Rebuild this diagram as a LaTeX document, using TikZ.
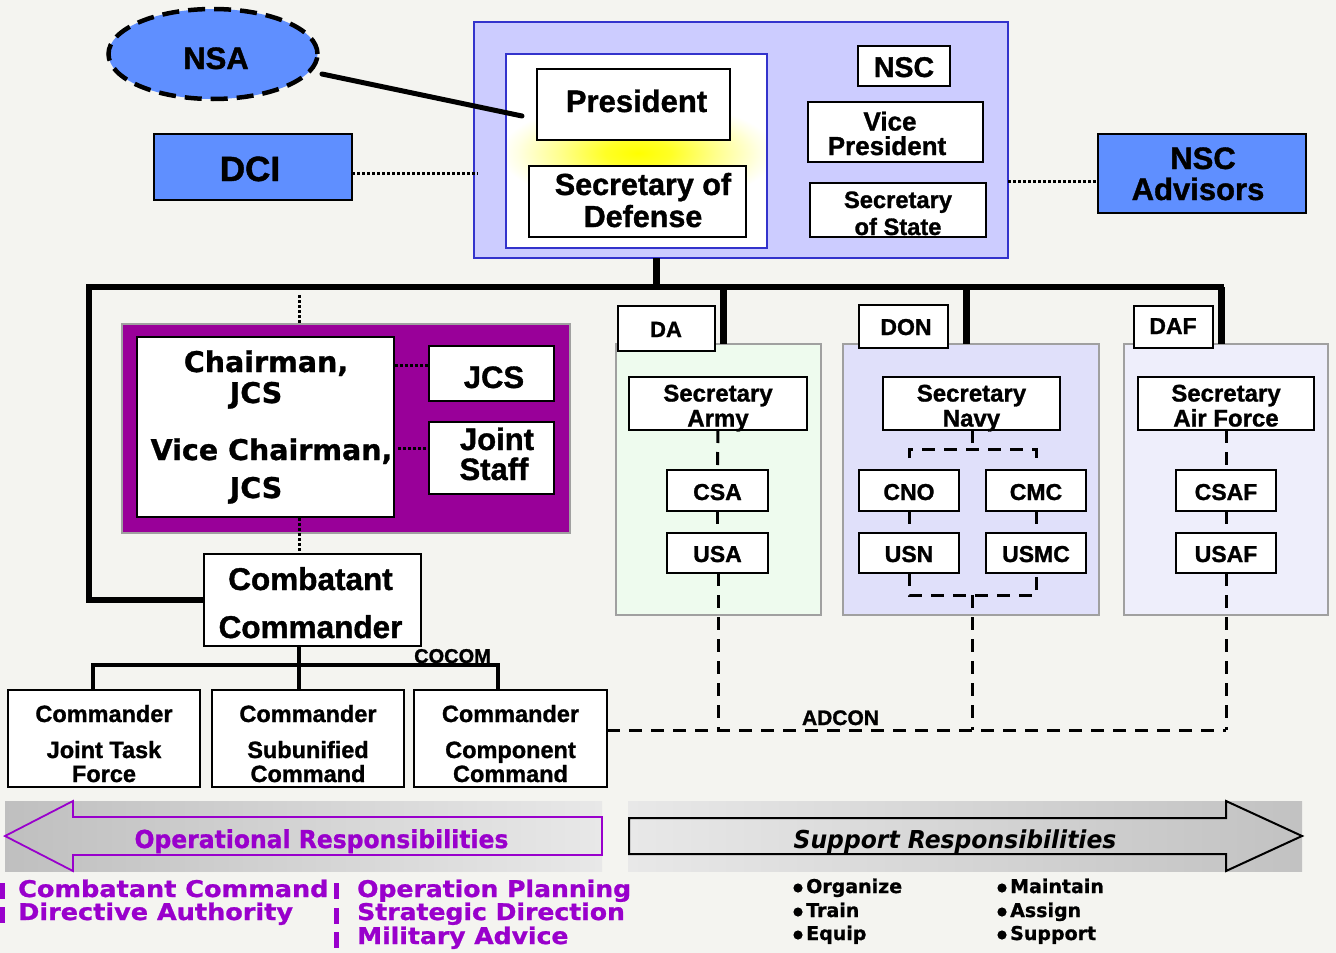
\documentclass[tikz,border=0pt]{standalone}
\usepackage{fontspec}
\usepackage{graphicx}
\setmainfont{Liberation Sans}[BoldFeatures={FakeBold=1.2}]
\newfontfamily\dejavu{DejaVu Sans}[BoldFeatures={FakeBold=1}]
\usetikzlibrary{shapes.geometric}
\definecolor{bg}{HTML}{F4F4F0}
\definecolor{blueF}{HTML}{5F8FFF}
\definecolor{lav}{HTML}{CCCCFF}
\definecolor{navy}{HTML}{3333CC}
\definecolor{purp}{HTML}{990099}
\definecolor{vio}{HTML}{9900CC}
\definecolor{daG}{HTML}{EEFBEE}
\definecolor{donB}{HTML}{E0E0FA}
\definecolor{dafB}{HTML}{EEEEFB}
\definecolor{pgray}{HTML}{A0A0A0}
\pgfdeclareradialshading{glow}{\pgfpoint{0bp}{0bp}}{%
  color(0bp)=(yellow); color(6bp)=(yellow!85!white); color(14bp)=(yellow!45!white);
  color(22bp)=(yellow!10!white); color(25bp)=(white); color(50bp)=(white)}
\newcommand{\fA}[1]{\fontsize{#1}{#1}\selectfont\bfseries}
\newcommand{\fD}[1]{\fontsize{#1}{#1}\selectfont\dejavu\bfseries}
\newcommand{\rbox}[6][]{\node[box,#1,minimum width={#4-#2},minimum height={#5-#3}] (#6) at ({(#2+#4)/2},{(#3+#5)/2}) {};}
\tikzset{
  box/.style={draw=black, line width=1.6pt, fill=white, inner sep=0pt, outer sep=0pt},
  lbl/.style={anchor=base, inner sep=0pt},
  lblw/.style={anchor=base west, inner sep=0pt},
  tree/.style={line width=6.5pt},
  subtree/.style={line width=4pt},
  dotline/.style={line width=3pt, dash pattern=on 2.5pt off 2.5pt},
  dashline/.style={line width=3pt, dash pattern=on 13pt off 9pt},
  panel/.style={draw=pgray, line width=1.5pt}
}
\begin{document}
\begin{tikzpicture}[x=1pt,y=-1pt]
\fill[bg] (0,0) rectangle (1336,953);
\useasboundingbox (0,0) rectangle (1336,953);

% ---------- top group ----------
\rbox[fill=lav, draw=navy, line width=2pt]{474}{22}{1008}{258}{nscbig}
\rbox[draw=navy, line width=2pt]{506}{54}{767}{248}{inner}
\begin{scope}
  \clip (506,54) rectangle (767,248);
  \shade[shading=glow] (500,100) rectangle (776,206);
\end{scope}
\draw[navy, line width=2pt] (506,54) rectangle (767,248);
\rbox{537}{69}{730}{140}{pres}
\rbox{529}{166}{746}{237}{secdef}
\node[lbl, font={\fA{31}}] (tpres) at (636.5,112) {President};
\node[lbl, font={\fA{30.5}}] (tsd1) at (643,195) {Secretary of};
\node[lbl, font={\fA{30.5}}] (tsd2) at (643,227) {Defense};

\rbox{858}{46}{950}{86}{nsc}
\node[lbl, font={\fA{28.5}}] (tnsc) at (904,77) {NSC};
\rbox{808}{102}{983}{162}{vp}
\node[lbl, font={\fA{26}}] (tvp1) at (890,130.5) {Vice};
\node[lbl, font={\fA{26}}] (tvp2) at (887,155) {President};
\rbox{810}{183}{986}{237}{sos}
\node[lbl, font={\fA{23.7}}] (tsos1) at (898,208) {Secretary};
\node[lbl, font={\fA{23.7}}] (tsos2) at (898,235) {of State};

\rbox[fill=blueF]{1098}{134}{1306}{213}{adv}
\node[lbl, font={\fA{31}}] (tadv1) at (1203,169) {NSC};
\node[lbl, font={\fA{31}}] (tadv2) at (1198,200) {Advisors};

\node[ellipse, fill=blueF, draw=black, line width=4.5pt, dash pattern=on 17pt off 9pt,
      minimum width=209pt, minimum height=90pt, inner sep=0pt] (nsa) at (213,54) {};
\node[lbl, font={\fA{31}}] (tnsa) at (216,69) {NSA};
\rbox[fill=blueF]{154}{134}{352}{200}{dci}
\node[lbl, font={\fA{35}}] (tdci) at (250,181) {DCI};

\coordinate (dciEnd) at (478,173);
\draw[dotline] (dci.east |- dciEnd) -- (dciEnd);
\coordinate (advStart) at (1008,181);
\draw[dotline] (advStart) -- (adv.west |- advStart);
\coordinate (nsaA) at (322,74);
\coordinate (nsaB) at (522,116);
\draw[line width=5pt, line cap=round] (nsaA) -- (nsaB);

% ---------- departments ----------
\rbox[panel, fill=daG]{616}{344}{821}{615}{daP}
\rbox[panel, fill=donB]{843}{344}{1099}{615}{donP}
\rbox[panel, fill=dafB]{1124}{344}{1328}{615}{dafP}

% tree
\coordinate (topDrop) at (656,258);
\coordinate (barMid) at (656,287);
\coordinate (barL) at (89,287);
\coordinate (barR) at (1224,287);
\coordinate (leftBot) at (89,600);
\coordinate (daTop) at (723,287);  \coordinate (daBot) at (723,344);
\coordinate (donTop) at (966,287); \coordinate (donBot) at (966,344);
\coordinate (dafTop) at (1221,287);\coordinate (dafBot) at (1221,344);
\draw[line width=7pt] (topDrop) -- (barMid);
\draw[tree] (barR) -- (barL) -- (leftBot) -- (204,600);
\draw[line width=7pt] (daTop) -- (daBot);
\draw[line width=7pt] (donTop) -- (donBot);
\draw[line width=7pt] (dafTop) -- (dafBot);

\rbox{618}{306}{715}{351}{da}
\node[lbl, font={\fA{22}}] (tda) at (666,337) {DA};
\rbox{859}{305}{948}{348}{don}
\node[lbl, font={\fA{23}}] (tdon) at (906,335) {DON};
\rbox{1134}{306}{1213}{348}{daf}
\node[lbl, font={\fA{23}}] (tdaf) at (1173,334) {DAF};

\rbox{629}{377}{807}{430}{secA}
\node[lbl, font={\fA{24}}] at (718,401.5) {Secretary};
\node[lbl, font={\fA{24}}] at (718,426.5) {Army};
\rbox{883}{377}{1060}{430}{secN}
\node[lbl, font={\fA{24}}] at (971.5,401.5) {Secretary};
\node[lbl, font={\fA{24}}] at (971.5,426.5) {Navy};
\rbox{1138}{377}{1314}{430}{secAF}
\node[lbl, font={\fA{24}}] at (1226,401.5) {Secretary};
\node[lbl, font={\fA{24}}] at (1226,426.5) {Air Force};

\rbox{667}{470}{768}{511}{csa}
\node[lbl, font={\fA{23}}] at (717.5,500) {CSA};
\rbox{667}{533}{768}{573}{usa}
\node[lbl, font={\fA{23}}] at (717.5,562) {USA};
\rbox{859}{470}{959}{511}{cno}
\node[lbl, font={\fA{23}}] at (909,500) {CNO};
\rbox{986}{470}{1086}{511}{cmc}
\node[lbl, font={\fA{23}}] at (1036,500) {CMC};
\rbox{859}{533}{959}{573}{usn}
\node[lbl, font={\fA{23}}] at (909,562) {USN};
\rbox{986}{533}{1086}{573}{usmc}
\node[lbl, font={\fA{23}}] at (1036,562) {USMC};
\rbox{1176}{470}{1276}{511}{csaf}
\node[lbl, font={\fA{23}}] at (1226,500) {CSAF};
\rbox{1176}{533}{1276}{573}{usaf}
\node[lbl, font={\fA{23}}] at (1226,562) {USAF};

% dashed connectors
\coordinate (adA) at (718,730);
\coordinate (adN) at (972,730);
\coordinate (adF) at (1226,730);
\coordinate (adL) at (607,730);
\draw[dashline] (secA.south) -- (csa.north);
\draw[dashline] (csa.south) -- (usa.north);
\draw[dashline] (usa.south -| adA) -- (adA);
\draw[dashline] (secAF.south) -- (csaf.north);
\draw[dashline] (csaf.south) -- (usaf.north);
\draw[dashline] (usaf.south) -- (adF);
\coordinate (nTop) at (972,449);
\coordinate (nBot) at (972,595);
\draw[dashline] (secN.south -| nTop) -- (nTop);
\draw[dashline] (909,458) -- (909,449) -- (1036,449) -- (1036,458);
\draw[dashline] (cno.south) -- (usn.north);
\draw[dashline] (cmc.south) -- (usmc.north);
\draw[dashline] (usn.south) -- (909,595) -- (1036,595) -- (usmc.south);
\draw[dashline] (nBot) -- (adN);
\draw[dashline] (adL) -- (adF);
\node[lbl, font={\fA{21}}] (tadcon) at (840.5,725) {ADCON};

% ---------- joint group ----------
\rbox[fill=purp, draw=pgray, line width=1.5pt]{122}{324}{570}{533}{jpanel}
\rbox{137}{337}{394}{517}{chair}
\node[lbl, font={\fD{28.5}}] at (266,372) {Chairman,};
\node[lbl, font={\fD{28.5}}] at (256,403) {JCS};
\node[lbl, font={\fD{28.5}}] at (271.5,460) {Vice Chairman,};
\node[lbl, font={\fD{28.5}}] at (256,498) {JCS};
\rbox{429}{346}{554}{401}{jcs}
\node[lbl, font={\fA{31}}] at (494,388) {JCS};
\rbox{429}{422}{554}{494}{jstaff}
\node[lbl, font={\fA{31}}] at (497,450) {Joint};
\node[lbl, font={\fA{31}}] at (494,480) {Staff};
\draw[dotline] (395,365) -- (jcs.west |- 0,365);
\draw[dotline] (398,448) -- (jstaff.west |- 0,448);

\rbox{204}{554}{421}{646}{cc}
\node[lbl, font={\fA{31.5}}] at (310.5,590) {Combatant};
\node[lbl, font={\fA{31.5}}] at (310.5,638) {Commander};
\coordinate (jTop) at (299,295);
\draw[dotline] (jTop) -- (jpanel.north -| jTop);
\draw[dotline] (299,518) -- (cc.north -| jTop);
\node[lblw, font={\fA{20}}] (tcocom) at (414,663) {COCOM};

\rbox{8}{690}{200}{787}{cjtf}
\rbox{212}{690}{404}{787}{csub}
\rbox{414}{690}{607}{787}{ccomp}
\coordinate (cb1) at (93,665);
\coordinate (cb2) at (299,665);
\coordinate (cb3) at (498,665);
\draw[subtree] (cc.south -| cb2) -- (cb2 |- cjtf.north);
\draw[subtree] (cb1 |- cjtf.north) -- (cb1) -- (cb3) -- (cb3 |- ccomp.north);
\foreach \cx/\la/\lb in {104/Joint Task/Force, 308/Subunified/Command, 510.5/Component/Command}{
  \node[lbl, font={\fA{23.5}}] at (\cx,722) {Commander};
  \node[lbl, font={\fA{23.5}}] at (\cx,758) {\la};
  \node[lbl, font={\fA{23.5}}] at (\cx,782) {\lb};
}

% ---------- bottom arrows ----------
\shade[left color=black!25, right color=black!9] (5,801) rectangle (602,871);
\shade[left color=black!9, right color=black!24] (628,801) rectangle (1302,871);
\draw[vio, line width=1.8pt] (5,836) -- (73,801) -- (73,817) -- (602,817) -- (602,855) -- (73,855) -- (73,871) -- cycle;
\draw[black, line width=2pt] (629,818) -- (1226,818) -- (1226,801) -- (1302,836) -- (1226,871) -- (1226,854) -- (629,854) -- cycle;
\node[lbl, font={\fD{24.7}}, text=vio] (topr) at (321.5,848) {\scalebox{0.95}[1]{Operational Responsibilities}};
\node[lbl, font={\fD{24.7}\itshape}] (tsup) at (955,848) {\scalebox{0.95}[1]{Support Responsibilities}};

% purple lists
\foreach \yy in {883,907}{\fill[vio] (0,\yy) rectangle (5,\yy+16);}
\foreach \yy in {883,908,932}{\fill[vio] (334,\yy) rectangle (339,\yy+16);}
\node[lblw, font={\fD{23}}, text=vio] at (18,897) {\scalebox{1.11}[1]{Combatant Command}};
\node[lblw, font={\fD{23}}, text=vio] at (18,920) {\scalebox{1.11}[1]{Directive Authority}};
\node[lblw, font={\fD{23}}, text=vio] at (357,897) {\scalebox{1.09}[1]{Operation Planning}};
\node[lblw, font={\fD{23}}, text=vio] at (357,920) {\scalebox{1.09}[1]{Strategic Direction}};
\node[lblw, font={\fD{23}}, text=vio] at (357,944) {\scalebox{1.09}[1]{Military Advice}};

% support bullets
\foreach \yy/\ta/\tb in {893/Organize/Maintain, 917/Train/Assign, 940/Equip/Support}{
  \fill (798,\yy-5) circle (4.6);
  \fill (1002,\yy-5) circle (4.6);
  \node[lblw, font={\fD{19}}] at (806,\yy) {\ta};
  \node[lblw, font={\fD{19}}] at (1010,\yy) {\tb};
}
\end{tikzpicture}
\end{document}
